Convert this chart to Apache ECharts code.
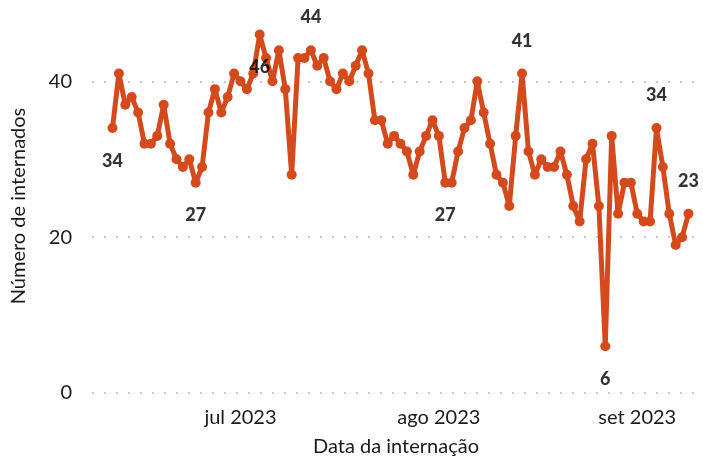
<!DOCTYPE html>
<html>
<head>
<meta charset="utf-8">
<script src="https://cdn.jsdelivr.net/npm/echarts@6/dist/echarts.min.js"></script>
<style>
  html, body { margin: 0; padding: 0; background: #ffffff; }
  #chart { width: 703px; height: 458px; }
</style>
</head>
<body>
<div id="chart"></div>
<script>
// ---- Data ----
const startDate = '2023-06-11';
const values = [
  34, 41, 37, 38, 36, 32, 32, 33, 37, 32,
  30, 29, 30, 27, 29, 36, 39, 36, 38, 41,
  40, 39, 41, 46, 43, 40, 44, 39, 28, 43,
  43, 44, 42, 43, 40, 39, 41, 40, 42, 44,
  41, 35, 35, 32, 33, 32, 31, 28, 31, 33,
  35, 33, 27, 27, 31, 34, 35, 40, 36, 32,
  28, 27, 24, 33, 41, 31, 28, 30, 29, 29,
  31, 28, 24, 22, 30, 32, 24, 6, 33, 23,
  27, 27, 23, 22, 22, 34, 29, 23, 19, 20,
  23
];
const labelDates = ['2023-06-11', '2023-06-24', '2023-07-04', '2023-07-12', '2023-08-02', '2023-08-14', '2023-08-27', '2023-09-04', '2023-09-09'];
const labelSide = [-1, -1, -1, 1, -1, 1, -1, 1, 1];
const xTickDates = ['2023-07-01', '2023-08-01', '2023-09-01'];
const xTickLabels = ['jul 2023', 'ago 2023', 'set 2023'];
const yTicks = [0, 20, 40];

// ---- Helpers ----
const DAY = 86400000;
function toTs(s) { const p = s.split('-'); return Date.UTC(+p[0], +p[1] - 1, +p[2]); }
const t0 = toTs(startDate);
const dates = values.map((v, i) => t0 + i * DAY);
const lineData = values.map((v, i) => [dates[i], v]);
const labelData = labelDates.map((s, k) => {
  const ts = toTs(s);
  const idx = dates.indexOf(ts);
  const v = values[idx];
  return { value: [ts, v + labelSide[k] * 4.2], raw: v };
});
const tickTs = xTickDates.map(toTs);

const FONT = 'Lato';
const chart = echarts.init(document.getElementById('chart'), null, { renderer: 'canvas' });
chart.setOption({
  backgroundColor: '#ffffff',
  animation: false,
  grid: { left: 92, right: 3, top: 19, bottom: 65, containLabel: false, outerBoundsMode: 'none' },
  xAxis: {
    type: 'value',
    min: dates[0] - 3.2 * DAY,
    max: dates[dates.length - 1] + 1.8 * DAY,
    name: 'Data da internação',
    nameLocation: 'middle',
    nameGap: 44,
    nameTextStyle: { fontFamily: FONT, fontSize: 20, color: '#1a1a1a' },
    axisLine: { show: false },
    axisTick: { show: false },
    splitLine: { show: false },
    axisLabel: {
      customValues: tickTs,
      margin: 15,
      fontFamily: FONT, fontSize: 20, color: '#1a1a1a',
      formatter: function (val) {
        const i = tickTs.indexOf(val);
        return i >= 0 ? xTickLabels[i] : '';
      }
    }
  },
  yAxis: {
    type: 'value',
    min: 0, max: 48, interval: 20,
    name: 'Número de internados',
    nameLocation: 'middle',
    nameGap: 63,
    nameTextStyle: { fontFamily: FONT, fontSize: 20, color: '#1a1a1a' },
    axisLine: { show: false },
    axisTick: { show: false },
    axisLabel: {
      margin: 20,
      showMaxLabel: false,
      fontFamily: FONT, fontSize: 20, color: '#1a1a1a',
      formatter: function (v) { return yTicks.indexOf(v) >= 0 ? String(v) : ''; }
    },
    splitLine: {
      show: true,
      showMaxLine: false,
      lineStyle: { color: '#c8c8c8', width: 2, type: [2, 10], cap: 'butt' }
    }
  },
  series: [
    {
      type: 'line',
      data: lineData,
      clip: false,
      symbol: 'circle',
      symbolSize: 10,
      lineStyle: { color: '#D44A1D', width: 5 },
      itemStyle: { color: '#D44A1D' },
      z: 2
    },
    {
      type: 'scatter',
      data: labelData,
      clip: false,
      symbolSize: 1,
      itemStyle: { color: 'rgba(0,0,0,0)' },
      label: {
        show: true,
        position: 'inside',
        fontFamily: FONT, fontSize: 18, fontWeight: 900, color: '#000',
        textBorderWidth: 0,
        formatter: function (p) { return String(p.data.raw); }
      },
      z: 3
    }
  ]
});
</script>
</body>
</html>
